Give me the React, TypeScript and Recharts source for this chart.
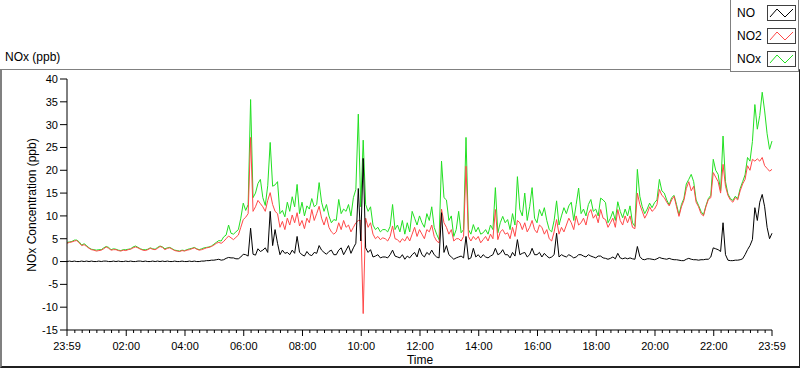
import { LineChart, Line, XAxis, YAxis } from 'recharts';

// readings every 5 minutes, starting 23:59
const noValues = [
  0.0, 0.1, 0.0, 0.1, 0.0, 0.0, 0.1, 0.0, 0.1, 0.0,
  0.1, 0.0, 0.0, 0.1, 0.0, 0.1, 0.1, 0.0, 0.0, 0.1,
  0.0, 0.1, 0.0, 0.0, 0.1, 0.0, 0.1, 0.0, 0.0, 0.1,
  0.1, 0.0, 0.1, 0.0, 0.0, 0.1, 0.0, 0.1, 0.0, 0.1,
  0.0, 0.1, 0.0, 0.0, 0.1, 0.0, 0.0, 0.1, 0.0, 0.0,
  0.1, 0.0, 0.1, 0.0, 0.0, 0.1, 0.1, 0.2, 0.2, 0.3,
  0.3, 0.4, 0.5, 0.3, 0.4, 0.7, 0.9, 0.8, 0.8, 0.6,
  0.6, 1.0, 1.6, 1.5, 1.2, 7.3, 1.6, 1.4, 2.8, 2.2,
  2.5, 3.0, 2.0, 11.0, 3.5, 7.0, 4.0, 1.5, 2.5, 1.8,
  2.0, 1.5, 2.5, 1.8, 5.5, 2.0, 1.5, 1.2, 2.2, 1.5,
  1.3, 2.0, 1.8, 3.5, 2.5, 2.0, 1.6, 2.2, 2.5, 1.5,
  1.5, 2.5, 3.0, 1.5, 2.5, 3.5, 1.8, 3.0, 4.0, 16.0,
  4.5, 22.6, 3.0, 2.0, 2.6, 1.0, 1.2, 1.5, 0.8, 1.0,
  1.0, 0.8, 1.5, 2.5, 1.2, 1.0, 0.8, 1.5, 0.5, 1.2,
  0.8, 1.5, 2.0, 1.0, 2.9, 1.5, 1.0, 2.0, 1.5, 2.5,
  1.5, 1.0, 0.8, 10.7, 2.0, 3.5, 1.5, 1.0, 0.5, 0.8,
  1.0, 1.2, 0.8, 5.5, 0.5, 0.8, 2.9, 1.0, 1.5, 0.8,
  1.5, 1.0, 0.8, 1.2, 1.5, 2.9, 1.5, 1.8, 2.6, 1.5,
  1.5, 0.8, 2.0, 1.2, 4.8, 1.5, 1.8, 2.0, 1.0, 1.5,
  2.9, 1.5, 1.5, 2.0, 1.0, 1.8, 1.2, 0.8, 1.0, 1.5,
  6.2, 1.0, 1.5, 1.2, 1.0, 1.5, 1.2, 0.8, 1.0, 1.5,
  1.5, 1.2, 1.0, 1.5, 1.2, 1.0, 0.8, 1.2, 1.2, 0.8,
  0.7, 0.5, 0.7, 1.0, 0.6, 1.8, 0.8, 0.6, 0.8, 0.6,
  0.8, 0.6, 0.5, 3.3, 1.1, 0.5, 0.4, 0.6, 0.6, 0.5,
  0.4, 0.6, 0.9, 0.7, 0.6, 0.5, 0.7, 0.5, 0.4, 0.4,
  0.3, 0.2, 0.2, 0.5, 0.7, 0.5, 0.4, 0.4, 0.3, 0.4,
  0.4, 0.5, 0.5, 1.0, 3.0, 2.8, 2.6, 2.2, 8.5, 1.5,
  0.3, 0.2, 0.2, 0.3, 0.3, 0.4, 0.6, 1.5, 2.6, 3.5,
  4.8, 11.8, 9.0, 13.0, 14.7, 12.0, 7.5, 5.0, 6.2,
];

const no2Values = [
  4.0, 4.2, 4.3, 4.5, 4.6, 4.1, 3.5, 3.7, 3.3, 2.9,
  2.6, 2.5, 2.3, 2.4, 2.5, 2.8, 3.2, 2.9, 2.5, 2.6,
  2.6, 2.4, 2.3, 2.5, 2.4, 2.6, 2.7, 3.0, 3.2, 3.0,
  2.7, 2.5, 2.4, 2.6, 2.9, 2.7, 2.6, 2.9, 3.3, 3.1,
  2.6, 2.9, 3.0, 2.7, 2.4, 2.3, 2.2, 2.4, 2.3, 2.5,
  2.6, 2.8, 3.0, 2.7, 2.5, 2.6, 2.8, 3.0, 3.1, 3.3,
  3.6, 4.0, 4.2, 4.0, 4.4, 5.0, 5.6, 5.2, 4.8, 5.3,
  5.8, 7.5, 9.2, 9.7, 10.5, 27.2, 11.0, 12.0, 13.4, 12.7,
  12.0, 11.0, 13.4, 15.1, 12.5, 11.0, 10.5, 7.5, 8.8, 7.0,
  9.5, 8.0, 10.2, 8.5, 10.7, 7.8, 9.0, 7.2, 9.5, 8.5,
  11.4, 9.0, 10.5, 12.1, 9.5, 8.0, 9.8, 7.5, 6.5, 6.0,
  6.5, 8.5, 7.0, 9.0, 7.5, 8.0, 6.5, 7.5, 8.5, 9.0,
  9.0, -11.4, 9.5, 7.5, 8.5, 6.0, 5.0, 5.5, 4.8, 5.2,
  5.0, 4.5, 5.5, 7.8, 5.0, 4.8, 4.2, 5.0, 4.5, 5.5,
  4.5, 6.0, 7.5, 5.5, 7.0, 6.0, 5.0, 7.0, 6.5, 8.0,
  5.5, 4.5, 4.1, 11.5, 8.5, 7.5, 6.0, 7.0, 4.5, 5.0,
  5.0, 4.5, 5.5, 20.9, 5.5, 4.5, 5.5, 4.8, 5.5, 4.1,
  4.8, 5.5, 4.5, 6.0, 5.0, 11.4, 4.8, 6.5, 7.0, 6.0,
  6.3, 5.0, 7.5, 5.5, 9.0, 8.5, 7.0, 8.5, 6.5, 7.5,
  9.0, 7.0, 6.3, 8.0, 7.5, 6.0, 7.0, 5.0, 4.5, 6.5,
  9.2, 6.0, 7.5, 6.5, 8.0, 9.5, 8.5, 7.0, 10.0, 8.0,
  8.5, 9.5, 8.0, 10.5, 11.4, 9.5, 10.3, 8.5, 11.4, 9.5,
  9.2, 7.5, 8.5, 9.5, 7.5, 11.4, 9.0, 8.0, 10.0, 8.5,
  10.0, 7.5, 7.2, 15.0, 12.5, 11.0, 9.5, 10.5, 12.0, 11.0,
  11.5, 12.5, 15.8, 14.5, 14.0, 13.0, 12.2, 13.5, 14.3, 12.0,
  9.9, 12.0, 13.4, 16.0, 17.5, 15.5, 16.5, 13.0, 12.0, 10.5,
  10.0, 12.0, 13.6, 14.0, 19.5, 18.5, 17.5, 15.0, 21.3, 16.5,
  14.5, 13.5, 13.0, 14.0, 13.5, 15.5, 17.0, 18.0, 21.0, 20.0,
  22.4, 22.0, 22.5, 22.0, 22.8, 21.0, 20.4, 19.8, 20.2,
];

const noxValues = [
  4.2, 4.3, 4.4, 4.7, 4.7, 4.3, 3.6, 3.9, 3.5, 3.0,
  2.7, 2.6, 2.5, 2.6, 2.6, 3.0, 3.3, 3.1, 2.6, 2.8,
  2.7, 2.5, 2.4, 2.6, 2.6, 2.7, 2.8, 3.2, 3.4, 3.1,
  2.8, 2.6, 2.6, 2.7, 3.0, 2.8, 2.7, 3.1, 3.4, 3.2,
  2.8, 3.0, 3.1, 2.8, 2.5, 2.4, 2.3, 2.5, 2.4, 2.6,
  2.8, 2.9, 3.1, 2.8, 2.6, 2.8, 3.0, 3.1, 3.2, 3.4,
  3.8, 4.2, 4.6, 4.5, 5.4, 5.8, 8.0, 6.2, 6.0, 6.5,
  7.0, 9.5, 12.8, 11.2, 12.5, 35.5, 14.0, 15.0, 17.1, 18.0,
  14.0, 12.3, 16.6, 26.1, 16.5, 16.8, 17.5, 10.5, 11.2, 9.8,
  13.0, 11.0, 14.2, 12.0, 16.9, 10.5, 13.0, 10.0, 12.2, 11.5,
  13.8, 12.0, 12.5, 17.3, 13.0, 11.0, 12.5, 10.0, 8.5, 9.2,
  9.0, 13.6, 10.5, 11.5, 11.0, 12.5, 10.0, 14.0, 15.8, 32.3,
  12.0, 26.6, 12.5, 11.0, 12.0, 8.0, 7.0, 7.5, 6.5, 7.0,
  7.0, 6.5, 7.7, 12.5, 7.0, 8.0, 6.5, 9.0, 6.0, 8.5,
  6.5, 11.0, 9.5, 8.0, 10.0, 8.5, 7.5, 10.5, 9.0, 12.0,
  7.5, 6.0, 4.8, 22.0, 14.0, 13.5, 9.0, 10.0, 5.5, 7.0,
  11.0, 6.3, 7.0, 27.2, 7.0, 6.0, 8.1, 6.5, 7.5, 6.0,
  6.3, 7.0, 6.0, 8.0, 7.0, 16.2, 6.3, 8.5, 9.9, 8.5,
  9.2, 7.0, 10.5, 8.0, 18.6, 11.4, 10.0, 15.0, 9.0, 12.0,
  16.2, 9.5, 8.5, 11.4, 10.0, 11.8, 9.0, 7.0, 6.5, 9.0,
  13.3, 8.0, 10.0, 11.8, 10.5, 12.2, 13.0, 9.0, 12.5, 16.1,
  10.5, 11.5, 10.0, 12.5, 13.6, 11.0, 11.5, 10.0, 13.9, 13.5,
  12.9, 8.5, 9.5, 11.0, 9.0, 13.1, 11.0, 9.6, 11.5, 10.0,
  12.2, 8.5, 7.7, 20.2, 14.3, 12.0, 10.5, 11.5, 12.8, 11.8,
  12.9, 13.5, 18.0, 15.5, 15.0, 13.5, 12.4, 14.0, 14.5, 12.5,
  10.2, 12.5, 13.8, 17.0, 18.0, 19.1, 17.5, 13.5, 12.3, 11.0,
  10.2, 12.2, 13.8, 14.5, 22.4, 20.0, 19.1, 15.5, 27.5, 17.5,
  14.8, 13.8, 13.4, 14.3, 13.8, 16.0, 17.5, 19.0, 22.8, 22.0,
  26.3, 34.4, 29.0, 32.0, 37.1, 33.0, 28.0, 24.6, 26.4,
];

const yTicks = [-15, -10, -5, 0, 5, 10, 15, 20, 25, 30, 35, 40];
const majorTickMinutes = [0, 121, 241, 361, 481, 601, 721, 841, 961, 1081, 1201, 1321, 1440];
const majorTickLabels = ['23:59', '02:00', '04:00', '06:00', '08:00', '10:00', '12:00', '14:00', '16:00', '18:00', '20:00', '22:00', '23:59'];

const data = noValues.map((v, i) => ({ t: i * 5, no: v, no2: no2Values[i], nox: noxValues[i] }));

const xTicks: number[] = [0];
for (let m = 16; m < 1440; m += 15) xTicks.push(m);
xTicks.push(1440);

const font = '"Liberation Sans", Arial, sans-serif';

const TimeTick = (props: any) => {
  const { x, y, payload } = props;
  const idx = majorTickMinutes.indexOf(payload.value);
  const major = idx >= 0;
  return (
    <g>
      <line x1={x} x2={x} y1={y} y2={y + (major ? 6 : 3)} stroke="#000" />
      {major && (
        <text x={x} y={y + 20} textAnchor="middle" fontSize={11} fontFamily={font} fill="#000">
          {majorTickLabels[idx]}
        </text>
      )}
    </g>
  );
};

const legendItems = [
  { name: 'NO', color: '#000000' },
  { name: 'NO2', color: '#ff4848' },
  { name: 'NOx', color: '#22e022' },
];

const NoxChart = () => {
  return (
    <div style={{ position: 'absolute', left: 0, top: 0, width: 800, height: 369, background: '#fff', fontFamily: font }}>
      <div style={{ position: 'absolute', left: 0, top: 69, width: 797, height: 296, borderTop: '1px solid #808080', borderLeft: '2px solid #808080', borderBottom: '2px solid #202020', borderRight: '1px solid #202020' }} />
      <div style={{ position: 'absolute', left: 5, top: 50, fontSize: 12, color: '#000' }}>NOx (ppb)</div>
      <div style={{ position: 'absolute', left: 730, top: 0, width: 67, height: 71, background: '#fff', borderLeft: '1px solid #808080', borderBottom: '1px solid #808080', borderRight: '1px solid #808080' }}>
        {legendItems.map((item, i) => (
          <div key={item.name} style={{ position: 'absolute', left: 6, top: 5 + i * 23, height: 17, width: 60 }}>
            <span style={{ position: 'absolute', left: 0, top: 1, fontSize: 12, color: '#000' }}>{item.name}</span>
            <svg style={{ position: 'absolute', left: 30, top: 0 }} width={29} height={16}>
              <rect x={0.5} y={0.5} width={28} height={15} fill="#fff" stroke="#404040" />
              <polyline points="3,12 10,4 18,12 26,4" fill="none" stroke={item.color} />
            </svg>
          </div>
        ))}
      </div>
      <div style={{ position: 'absolute', left: 32, top: 205, transform: 'translate(-50%, -50%) rotate(-90deg)', whiteSpace: 'nowrap', fontSize: 12, color: '#000' }}>
        NOx Concentration (ppb)
      </div>
      <div style={{ position: 'absolute', left: 420, top: 360, transform: 'translate(-50%, -50%)', fontSize: 12, color: '#000' }}>Time</div>
      <div style={{ position: 'absolute', left: 0, top: 0 }}>
        <LineChart width={800} height={369} data={data} margin={{ top: 79, right: 28, bottom: 0, left: 8 }}>
          <XAxis
            dataKey="t"
            type="number"
            domain={[0, 1440]}
            ticks={xTicks}
            interval={0}
            height={39}
            tickSize={0}
            tickMargin={0}
            tickLine={false}
            tick={<TimeTick />}
            axisLine={{ stroke: '#000' }}
          />
          <XAxis xAxisId="top" orientation="top" dataKey="t" type="number" domain={[0, 1440]} height={0} tick={false} tickLine={false} axisLine={{ stroke: '#000' }} />
          <YAxis
            domain={[-15, 40]}
            ticks={yTicks}
            interval={0}
            allowDataOverflow
            width={59}
            tickSize={7}
            tickMargin={2}
            tick={{ fontSize: 11, fill: '#000', fontFamily: font }}
            tickLine={{ stroke: '#000' }}
            axisLine={{ stroke: '#000' }}
          />
          <YAxis yAxisId="right" orientation="right" domain={[-15, 40]} width={0} tick={false} tickLine={false} axisLine={{ stroke: '#808080' }} />
          <Line type="linear" dataKey="nox" stroke="#22e022" strokeWidth={1} dot={false} isAnimationActive={false} />
          <Line type="linear" dataKey="no2" stroke="#ff4848" strokeWidth={1} dot={false} isAnimationActive={false} />
          <Line type="linear" dataKey="no" stroke="#000" strokeWidth={1} dot={false} isAnimationActive={false} />
        </LineChart>
      </div>
    </div>
  );
};

export default NoxChart;
